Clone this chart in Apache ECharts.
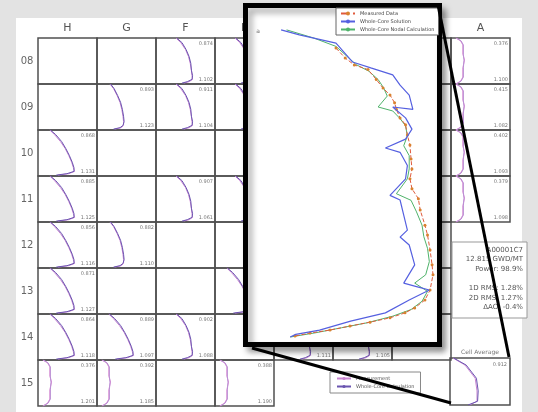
<!DOCTYPE html>
<html>
<head>
<meta charset="utf-8">
<script src="https://cdn.jsdelivr.net/npm/echarts@6/dist/echarts.min.js"></script>
<style>
  html, body { margin: 0; padding: 0; background: #e3e3e3; }
  #sheet { position: absolute; left: 16px; top: 18px; width: 506px; height: 394px; background: #fff; }
  #chart { position: absolute; left: 0; top: 0; width: 538px; height: 412px; }
</style>
</head>
<body>
<div id="sheet"></div>
<div id="chart"></div>
<script>
// core map labels
const colLetters = ['H', 'G', 'F', 'E', 'D', 'C', 'B', 'A']
const rowNames = ['08', '09', '10', '11', '12', '13', '14', '15']

// small panel profiles (x in % of panel width, depth in % of panel height)
const profileDepth = [0, 10, 25, 40, 55, 70, 82, 90, 95, 98]
const wideMeasured = [20, 28, 38, 46, 52, 57, 60, 62, 52, 34]
const wideCalc = [21, 30, 40, 47, 53, 58, 61, 61, 49, 31]
const steepMeasured = [34, 42, 50, 55, 58, 60, 61, 62, 56, 47]
const steepCalc = [35, 44, 51, 56, 59, 60, 62, 61, 53, 44]
const midMeasured = [22, 28, 34, 39, 42, 44, 45, 45, 41, 30]
const midCalc = [23, 29, 35, 40, 43, 45, 46, 44, 39, 28]
const bracketDepth = [0, 6, 15, 35, 48, 52, 65, 85, 94, 100]
const bracketMeasured = [8, 16, 20, 20, 23, 23, 20, 20, 16, 8]
const bracketCalc = [9, 17, 21, 21, 22, 22, 21, 21, 17, 9]

// cell average panel
const avgDepth = [0, 15, 43, 70, 92, 100]
const avgMeasured = [5, 25, 42, 45, 45, 33]
const avgCalc = [6, 27, 44, 47, 46, 30]

// panels with curves: column, row, profile, top label, bottom label
const curvePanels = [
  ['F', '08', 'steep', '0.874', '1.102'],
  ['E', '08', 'steep', '0.901', '1.095'],
  ['A', '08', 'bracket', '0.376', '1.100'],
  ['G', '09', 'mid', '0.893', '1.123'],
  ['F', '09', 'steep', '0.911', '1.104'],
  ['E', '09', 'steep', '0.925', '1.087'],
  ['A', '09', 'bracket', '0.415', '1.082'],
  ['H', '10', 'wide', '0.868', '1.131'],
  ['A', '10', 'bracket', '0.402', '1.093'],
  ['H', '11', 'wide', '0.885', '1.125'],
  ['F', '11', 'steep', '0.907', '1.061'],
  ['E', '11', 'steep', '0.918', '1.072'],
  ['A', '11', 'bracket', '0.379', '1.098'],
  ['H', '12', 'wide', '0.856', '1.116'],
  ['G', '12', 'mid', '0.882', '1.110'],
  ['H', '13', 'wide', '0.871', '1.127'],
  ['E', '13', 'wide', '0.893', '1.106'],
  ['H', '14', 'wide', '0.864', '1.118'],
  ['G', '14', 'wide', '0.889', '1.097'],
  ['F', '14', 'steep', '0.902', '1.088'],
  ['D', '14', 'steep', '0.915', '1.111'],
  ['C', '14', 'steep', '0.921', '1.105'],
  ['H', '15', 'bracket', '0.376', '1.201'],
  ['G', '15', 'bracket', '0.392', '1.185'],
  ['E', '15', 'bracket', '0.388', '1.190']
]

// zoomed assembly: [value, depth]
const insetMeasured = [[47, 11.5], [52, 14.5], [57, 16.6], [64.5, 18], [69, 21], [72.7, 23.6], [76.5, 25.7], [79, 28], [80, 30], [82, 32.6], [85, 34.7], [86, 37.8], [87.4, 40.8], [88, 45], [88.5, 48], [87.4, 51], [88.5, 54], [92, 57], [93, 60.4], [95.6, 65], [97, 68], [98.4, 72.5], [99.5, 77], [100, 80], [98.4, 84.6], [95.6, 87.6], [90, 90], [84.7, 91.5], [76.5, 93], [65.6, 94.3], [54.6, 95.5], [43.7, 96.7], [32.8, 97.6], [24.6, 98.5]]
const insetCalc = [[17, 6], [27, 7.5], [47, 10], [56, 15.7], [66, 17.5], [78, 19.6], [82, 22.7], [87, 25.7], [89, 30], [78, 29.3], [85, 32.6], [88.5, 36], [85, 39], [74, 41.7], [82, 43], [86, 47], [85, 51], [76.5, 56], [82, 57.4], [84, 62], [86, 66.5], [82, 68.6], [87, 71], [90, 77], [84, 82.5], [92, 83.7], [98, 84.6], [87, 87.6], [74, 91.5], [55, 94], [38, 96.7], [25, 98], [22, 98.8]]
const insetNodal = [[20, 6], [35, 8.5], [47, 11], [53, 14], [58, 16.5], [65, 18.5], [70, 21], [73, 23.5], [75, 26], [70, 29.3], [78, 30.5], [82, 32.8], [85, 35], [86, 38], [84, 41], [87, 44], [87, 48], [86, 51], [80, 55.5], [88, 57.5], [91, 61], [94, 65], [95, 68.5], [97, 72], [98, 76], [96, 80], [90, 82.5], [97, 85], [94, 88], [88, 90.5], [78, 92.5], [64, 94.5], [50, 96], [36, 97.5], [22, 98.8]]

const infoLines = ['A00001C7', '12.815 GWD/MT', 'Power: 98.9%', '', '1D RMS: 1.28%', '2D RMS: 1.27%', 'ΔAO: -0.4%']

const gx = 38, gy = 38, cw = 59, ch = 46
const lineColor = '#505050'
const measColor = '#c884d0'
const calcColor = '#6a55b0'

const grids = [], xAxes = [], yAxes = [], series = [], graphics = []
const cellGrid = {}

function addGrid(left, top, w, h, box) {
  grids.push({ left, top, width: w, height: h, show: box, borderColor: lineColor, borderWidth: 1.5 })
  const i = grids.length - 1
  xAxes.push({ gridIndex: i, type: 'value', min: 0, max: 100, show: false })
  yAxes.push({ gridIndex: i, type: 'value', min: 0, max: 100, inverse: true, show: false })
  return i
}
function pairs(xs, ds) {
  return xs.map((x, k) => [x, ds[k]])
}
function text(x, y, str, font, fill, align, valign, z) {
  graphics.push({ type: 'text', x, y, z: z || 5, silent: true,
    style: { text: str, font, fill, textAlign: align || 'center', textVerticalAlign: valign || 'middle' } })
}

// boxes of the core map
rowNames.forEach((rn, r) => {
  colLetters.forEach((cl, c) => {
    const exists = (c < 7 && r < 7) || (c === 7 && r < 4) || (r === 7 && c < 4)
    if (!exists) return
    cellGrid[cl + rn] = addGrid(gx + c * cw, gy + r * ch, cw, ch, true)
  })
})

colLetters.forEach((cl, c) => text(gx + c * cw + cw / 2, 28, cl, '11px DejaVu Sans', '#555'))
rowNames.forEach((rn, r) => text(27, gy + r * ch + ch / 2, rn, '10px DejaVu Sans', '#666'))

const profiles = {
  wide: [wideMeasured, wideCalc, profileDepth],
  steep: [steepMeasured, steepCalc, profileDepth],
  mid: [midMeasured, midCalc, profileDepth],
  bracket: [bracketMeasured, bracketCalc, bracketDepth]
}

curvePanels.forEach(([cl, rn, kind, topLab, botLab]) => {
  const i = cellGrid[cl + rn]
  const p = profiles[kind]
  const c1 = kind === 'bracket' ? '#d98ad2' : measColor
  const c2 = kind === 'bracket' ? '#b98fd4' : calcColor
  series.push({ name: 'Measurement', type: 'line', xAxisIndex: i, yAxisIndex: i, data: pairs(p[0], p[2]),
    symbol: 'none', lineStyle: { width: 1, color: c1 }, itemStyle: { color: measColor }, z: 3, silent: true })
  series.push({ name: 'Whole-Core Calculation', type: 'line', xAxisIndex: i, yAxisIndex: i, data: pairs(p[1], p[2]),
    symbol: 'none', lineStyle: { width: 1, color: c2 }, itemStyle: { color: calcColor }, z: 3, silent: true })
  const g = grids[i]
  text(g.left + cw - 2, g.top + 3, topLab, '5px DejaVu Sans', '#777', 'right', 'top')
  text(g.left + cw - 2, g.top + ch - 2, botLab, '5px DejaVu Sans', '#777', 'right', 'bottom')
})

// cell average panel
const avgIdx = addGrid(450, 358, 60, 47, true)
series.push({ name: 'Measurement', type: 'line', xAxisIndex: avgIdx, yAxisIndex: avgIdx, data: pairs(avgMeasured, avgDepth),
  symbol: 'none', lineStyle: { width: 1, color: measColor }, itemStyle: { color: measColor }, silent: true })
series.push({ name: 'Whole-Core Calculation', type: 'line', xAxisIndex: avgIdx, yAxisIndex: avgIdx, data: pairs(avgCalc, avgDepth),
  symbol: 'none', lineStyle: { width: 1, color: calcColor }, itemStyle: { color: calcColor }, silent: true })
text(480, 352, 'Cell Average', '6px DejaVu Sans', '#777')
text(507, 362, '0.912', '5px DejaVu Sans', '#777', 'right', 'top')

// info box
graphics.push({ type: 'rect', shape: { x: 452, y: 242, width: 75, height: 76 }, z: 4,
  style: { fill: '#fff', stroke: '#999', lineWidth: 1 } })
infoLines.forEach((t, k) => text(523, 250 + k * 9.6, t, '7px DejaVu Sans', '#555', 'right', 'middle', 6))

// zoomed inset box
graphics.push({ type: 'rect', shape: { x: 245.5, y: 5.5, width: 194, height: 339 }, z: 100,
  style: { fill: '#fff', stroke: '#000', lineWidth: 5, shadowBlur: 6, shadowColor: 'rgba(0,0,0,0.35)', shadowOffsetX: 4, shadowOffsetY: 5 } })
text(258, 31, 'a', '6px DejaVu Sans', '#666', 'center', 'middle', 115)

const insetIdx = addGrid(250, 10, 183, 331, false)
series.push({ name: 'Measured Data', type: 'line', xAxisIndex: insetIdx, yAxisIndex: insetIdx, data: insetMeasured,
  symbol: 'circle', symbolSize: 3, lineStyle: { width: 1, type: 'dashed', color: '#e05a3c' },
  itemStyle: { color: '#d9822f' }, z: 112, silent: true })
series.push({ name: 'Whole-Core Nodal Calculation', type: 'line', xAxisIndex: insetIdx, yAxisIndex: insetIdx, data: insetNodal,
  symbol: 'none', lineStyle: { width: 1, color: '#4fb36a' }, itemStyle: { color: '#4fb36a' }, z: 111, silent: true })
series.push({ name: 'Whole-Core Solution', type: 'line', xAxisIndex: insetIdx, yAxisIndex: insetIdx, data: insetCalc,
  symbol: 'none', lineStyle: { width: 1.2, color: '#5560e0' }, itemStyle: { color: '#5560e0' }, z: 113, silent: true })

// connecting lines
graphics.push({ type: 'line', shape: { x1: 438, y1: 5, x2: 509, y2: 357 }, z: 200, style: { stroke: '#000', lineWidth: 3 } })
graphics.push({ type: 'line', shape: { x1: 252, y1: 348, x2: 451, y2: 403 }, z: 200, style: { stroke: '#000', lineWidth: 3 } })

const chart = echarts.init(document.getElementById('chart'))
chart.setOption({
  animation: false,
  grid: grids,
  xAxis: xAxes,
  yAxis: yAxes,
  legend: [
    {
      data: ['Measured Data', 'Whole-Core Solution', 'Whole-Core Nodal Calculation'],
      orient: 'vertical', left: 336, top: 8, z: 120,
      itemWidth: 14, itemHeight: 5, itemGap: 3, padding: [3, 4],
      backgroundColor: '#fff', borderColor: '#666', borderWidth: 1,
      textStyle: { fontSize: 5, color: '#444', fontFamily: 'DejaVu Sans' }
    },
    {
      data: ['Measurement', 'Whole-Core Calculation'],
      orient: 'vertical', left: 330, top: 372, z: 10,
      itemWidth: 14, itemHeight: 4, itemGap: 3, padding: [4, 6],
      borderColor: '#888', borderWidth: 1,
      textStyle: { fontSize: 5, color: '#555', fontFamily: 'DejaVu Sans' }
    }
  ],
  graphic: { elements: graphics },
  series: series
})
</script>
</body>
</html>
